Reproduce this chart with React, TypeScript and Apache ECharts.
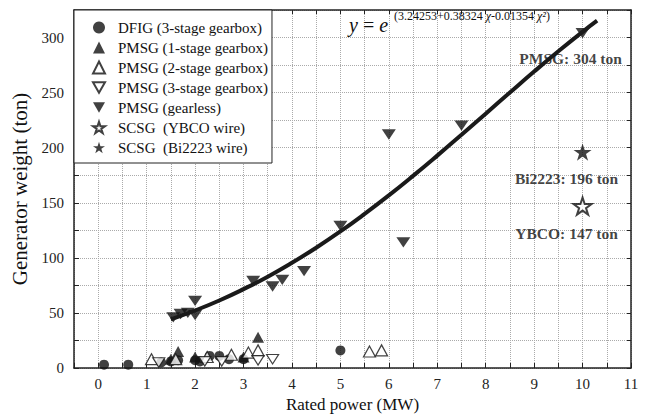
import React, { useEffect, useRef } from "react";
import * as echarts from "echarts";

const FONT = "'Liberation Serif', 'Times New Roman', serif";

// DFIG (3-stage gearbox) - filled circles
const dfig: number[][] = [
  [0.12, 3], [0.62, 3], [1.3, 5], [1.5, 6], [1.65, 7], [2.0, 7], [2.1, 6],
  [2.3, 11], [2.5, 11], [2.7, 8], [3.0, 8], [5.0, 16],
];
// PMSG (1-stage gearbox) - filled up triangles
const pmsg1: number[][] = [[1.5, 8], [1.65, 15], [2.0, 10], [3.0, 10], [3.3, 28]];
// PMSG (2-stage gearbox) - open up triangles
const pmsg2: number[][] = [
  [1.1, 8], [1.6, 8], [2.25, 10], [2.75, 12], [3.1, 14], [3.3, 16], [5.6, 15], [5.85, 16],
];
// PMSG (3-stage gearbox) - open down triangles
const pmsg3: number[][] = [[1.25, 5], [2.2, 6], [2.55, 6], [3.3, 7], [3.6, 8]];
// PMSG (gearless) - filled down triangles
const gearless: number[][] = [
  [1.55, 46], [1.7, 49], [1.85, 50], [2.0, 48], [2.0, 61], [3.2, 79], [3.6, 74],
  [3.8, 80], [4.25, 88], [5.0, 129], [6.0, 212], [6.3, 114], [7.5, 220], [10, 304],
];
// SCSG
const ybco: number[][] = [[10, 147]];
const bi2223: number[][] = [[10, 196]];

// Fitted curve y = e^(3.24253+0.38324x-0.01354x^2), values evaluated at these x
const fitX = [1.5, 2, 2.5, 3, 3.5, 4, 4.5, 5, 5.5, 6, 6.5, 7, 7.5, 8, 8.5, 9, 9.5, 10, 10.3];
const fitY = [44.1, 52.2, 61.3, 71.6, 82.9, 95.5, 109.2, 124.0, 139.9, 156.7, 174.4, 192.8, 211.7, 230.9, 250.1, 269.1, 287.5, 305.2, 315.3];

const legendNames = [
  "DFIG (3-stage gearbox)",
  "PMSG (1-stage gearbox)",
  "PMSG (2-stage gearbox)",
  "PMSG (3-stage gearbox)",
  "PMSG (gearless)",
  "SCSG  (YBCO wire)",
  "SCSG  (Bi2223 wire)",
];

const DOWN_TRI = "path://M0,0 L100,0 L50,86 Z";
const STAR =
  "path://M50,0 L61.2,34.5 L97.6,34.5 L68.2,55.9 L79.4,90.5 L50,69.1 L20.6,90.5 L31.8,55.9 L2.4,34.5 L38.8,34.5 Z";

export default function App() {
  const ref = useRef<HTMLDivElement>(null);
  useEffect(() => {
    document.body.style.margin = "0";
    if (!ref.current) return;
    const chart = echarts.init(ref.current, undefined, { renderer: "svg" });
    const lbl = (text: string, offset: number[]) => ({
      show: true,
      formatter: text,
      position: "bottom",
      distance: 5,
      offset,
      fontFamily: FONT,
      fontWeight: "bold",
      fontSize: 15.5,
      color: "#111",
    });
    const axisCommonX = { type: "value", min: -0.5, max: 11, interval: 0.5 };
    const axisCommonY = { type: "value", min: 0, max: 325, interval: 25 };
    const frameLine = { show: true, onZero: false, lineStyle: { color: "#222", width: 1.5 } };
    chart.setOption({
      animation: false,
      backgroundColor: "#fff",
      grid: { left: 74, right: 18, top: 10, bottom: 50 },
      legend: {
        data: legendNames,
        orient: "vertical",
        left: 74,
        top: 10,
        padding: [10, 4, 8, 18],
        itemWidth: 12,
        itemHeight: 12,
        itemGap: 5,
        symbolKeepAspect: true,
        backgroundColor: "#fff",
        borderColor: "#222",
        borderWidth: 1,
        borderRadius: 0,
        textStyle: { fontFamily: FONT, fontSize: 15, color: "#111", padding: [0, 0, 0, 8] },
        z: 10,
      },
      graphic: [
        {
          type: "text",
          left: 349,
          top: 15,
          z: 20,
          style: {
            text: "{i|y} = {i|e}",
            fill: "#111",
            font: `20px ${FONT}`,
            rich: {
              i: { fontFamily: FONT, fontSize: 20, fontStyle: "italic", fill: "#111" },
            },
          },
        },
        {
          type: "text",
          left: 394,
          top: 10,
          z: 20,
          style: {
            text: "(3.24253+0.38324 {i|χ}-0.01354 {i|χ²})",
            fill: "#111",
            font: `12px ${FONT}`,
            rich: {
              i: { fontFamily: FONT, fontSize: 12, fontStyle: "italic", fill: "#111" },
            },
          },
        },
      ],
      xAxis: [
        {
          ...axisCommonX,
          name: "Rated power (MW)",
          nameLocation: "middle",
          nameGap: 28,
          nameTextStyle: { fontFamily: FONT, fontSize: 17, color: "#111" },
          axisLine: frameLine,
          axisTick: { show: true, inside: true, length: 5, lineStyle: { color: "#222" } },
          axisLabel: {
            formatter: (v: number) => (Number.isInteger(v) ? String(v) : ""),
            fontFamily: FONT,
            fontSize: 15,
            color: "#222",
            margin: 8,
          },
          splitLine: { show: true, lineStyle: { type: "dotted", color: "#aaa", width: 1 } },
        },
        {
          ...axisCommonX,
          position: "top",
          axisLine: frameLine,
          axisTick: { show: true, inside: true, length: 4, lineStyle: { color: "#222" } },
          axisLabel: { show: false },
          splitLine: { show: false },
        },
      ],
      yAxis: [
        {
          ...axisCommonY,
          name: "Generator weight (ton)",
          nameLocation: "middle",
          nameGap: 37,
          nameTextStyle: { fontFamily: FONT, fontSize: 21, color: "#111" },
          axisLine: frameLine,
          axisTick: { show: true, inside: true, length: 5, lineStyle: { color: "#222" } },
          axisLabel: {
            formatter: (v: number) => (v % 50 === 0 ? String(v) : ""),
            fontFamily: FONT,
            fontSize: 15,
            color: "#222",
            margin: 10,
          },
          splitLine: { show: true, lineStyle: { type: "dotted", color: "#aaa", width: 1 } },
        },
        {
          ...axisCommonY,
          position: "right",
          axisLine: frameLine,
          axisTick: { show: true, inside: true, length: 4, lineStyle: { color: "#222" } },
          axisLabel: { show: false },
          splitLine: { show: false },
        },
      ],
      series: [
        {
          name: legendNames[0],
          type: "scatter",
          symbol: "circle",
          symbolSize: 10,
          itemStyle: { color: "#111" },
          data: dfig,
        },
        {
          name: legendNames[1],
          type: "scatter",
          symbol: "triangle",
          symbolSize: [12, 11],
          itemStyle: { color: "#111" },
          data: pmsg1,
        },
        {
          name: legendNames[2],
          type: "scatter",
          symbol: "triangle",
          symbolSize: [12, 11],
          itemStyle: { color: "#fff", borderColor: "#111", borderWidth: 1.2 },
          data: pmsg2,
        },
        {
          name: legendNames[3],
          type: "scatter",
          symbol: DOWN_TRI,
          symbolKeepAspect: true,
          symbolSize: [12, 11],
          itemStyle: { color: "#fff", borderColor: "#111", borderWidth: 1.2 },
          data: pmsg3,
        },
        {
          name: legendNames[4],
          type: "scatter",
          symbol: DOWN_TRI,
          symbolKeepAspect: true,
          symbolSize: [14, 12],
          itemStyle: { color: "#111" },
          data: gearless.map((p) =>
            p[0] === 10 ? { value: p, label: lbl("PMSG: 304 ton", [-12, 7]) } : p
          ),
        },
        {
          name: legendNames[5],
          type: "scatter",
          symbol: STAR,
          symbolKeepAspect: true,
          symbolSize: 18,
          itemStyle: { color: "#fff", borderColor: "#111", borderWidth: 2 },
          data: ybco.map((p) => ({ value: p, label: lbl("YBCO: 147 ton", [-16, 5]) })),
        },
        {
          name: legendNames[6],
          type: "scatter",
          symbol: STAR,
          symbolKeepAspect: true,
          symbolSize: 18,
          itemStyle: { color: "#111" },
          data: bi2223.map((p) => ({ value: p, label: lbl("Bi2223: 196 ton", [-16, 5]) })),
        },
        {
          name: "fit",
          type: "line",
          smooth: true,
          showSymbol: false,
          symbol: "none",
          lineStyle: { color: "#1a1a1a", width: 4 },
          z: 5,
          data: fitX.map((x, i) => [x, fitY[i]]),
        },
      ],
    });
    return () => chart.dispose();
  }, []);
  return <div ref={ref} style={{ width: 649, height: 418 }} />;
}
